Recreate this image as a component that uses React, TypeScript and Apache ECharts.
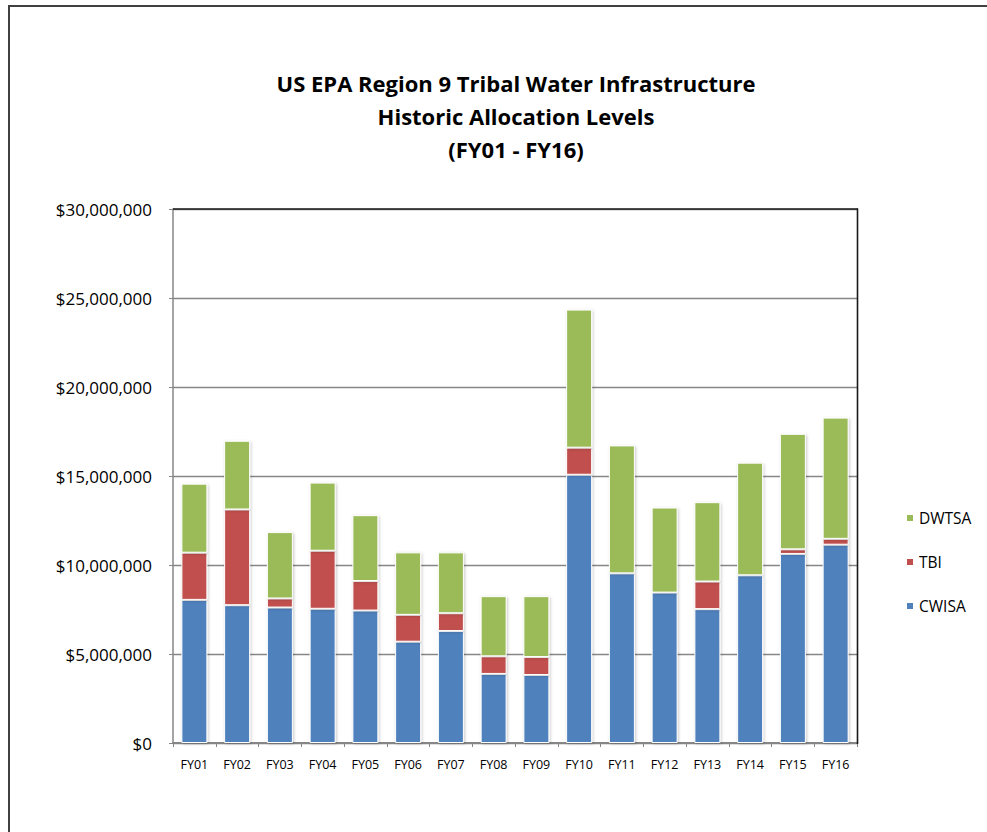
import React, { useEffect, useRef } from "react";
import * as echarts from "echarts";

const categories = ["FY01","FY02","FY03","FY04","FY05","FY06","FY07","FY08","FY09","FY10","FY11","FY12","FY13","FY14","FY15","FY16"];
const cwisa = [8040000,7740000,7610000,7540000,7440000,5690000,6290000,3880000,3820000,15070000,9530000,8450000,7520000,9420000,10620000,11140000];
const tbi = [2650000,5380000,510000,3260000,1660000,1510000,1000000,990000,1010000,1520000,0,0,1550000,0,260000,330000];
const dwtsa = [3880000,3860000,3730000,3830000,3700000,3510000,3420000,3380000,3420000,7760000,7190000,4780000,4460000,6330000,6490000,6810000];
const yTicks = { min: 0, max: 30000000, interval: 5000000 };
const titleText = "US EPA Region 9 Tribal Water Infrastructure\nHistoric Allocation Levels\n(FY01 - FY16)";

const FONT = "'Open Sans', 'Noto Sans', sans-serif";

function fmtMoney(v: number): string {
  return "$" + Math.round(v).toString().replace(/\B(?=(\d{3})+(?!\d))/g, ",");
}

export default function App() {
  const ref = useRef<HTMLDivElement>(null);
  useEffect(() => {
    if (!ref.current) return;
    const chart = echarts.init(ref.current, null, { renderer: "svg" });
    const barStyle = (color: string) => ({
      color,
      borderColor: "#ffffff",
      borderWidth: 1,
      shadowColor: "rgba(0,0,0,0.22)",
      shadowBlur: 3,
      shadowOffsetX: 1,
      shadowOffsetY: 1,
    });
    chart.setOption({
      animation: false,
      backgroundColor: "#ffffff",
      title: {
        text: titleText,
        left: 511,
        top: 61,
        textAlign: "center",
        textStyle: {
          fontFamily: FONT,
          fontWeight: "bold",
          fontSize: 22,
          lineHeight: 33,
          color: "#000000",
        },
      },
      legend: {
        orient: "vertical",
        left: 900,
        top: 505,
        itemWidth: 8,
        itemHeight: 8,
        itemGap: 28,
        icon: "rect",
        data: ["DWTSA", "TBI", "CWISA"],
        textStyle: { fontFamily: FONT, fontSize: 15.5, lineHeight: 16, color: "#000000", padding: [0, 0, 0, 0] },
      },
      grid: {
        left: 173,
        right: 130,
        top: 209,
        bottom: 89,
        show: false,
      },
      xAxis: {
        type: "category",
        data: categories,
        axisLine: { lineStyle: { color: "#868686", width: 2 } },
        axisTick: { show: true, length: 4, lineStyle: { color: "#868686" } },
        axisLabel: { fontFamily: FONT, fontSize: 12.5, color: "#000000", margin: 15 },
      },
      yAxis: {
        type: "value",
        min: yTicks.min,
        max: yTicks.max,
        interval: yTicks.interval,
        axisLine: { show: true, lineStyle: { color: "#868686", width: 1.5 } },
        axisTick: { show: true, length: 4, lineStyle: { color: "#868686" } },
        splitLine: { lineStyle: { color: "#868686", width: 1.3 } },
        axisLabel: { fontFamily: FONT, fontSize: 17, color: "#000000", margin: 21, formatter: (v: number) => fmtMoney(v) },
      },
      graphic: [
        { type: "line", z: 100, shape: { x1: 8, y1: 6, x2: 987, y2: 6 }, style: { stroke: "#404040", lineWidth: 2 } },
        { type: "line", z: 100, shape: { x1: 9, y1: 5, x2: 9, y2: 832 }, style: { stroke: "#404040", lineWidth: 2 } },
        { type: "line", z: 100, shape: { x1: 173, y1: 209, x2: 858, y2: 209 }, style: { stroke: "#1a1a1a", lineWidth: 1.6 } },
        { type: "line", z: 100, shape: { x1: 857.5, y1: 208.5, x2: 857.5, y2: 744 }, style: { stroke: "#1a1a1a", lineWidth: 1.6 } },
      ],
      series: [
        { name: "CWISA", type: "bar", stack: "total", data: cwisa, barWidth: 26, itemStyle: barStyle("#4F81BD") },
        { name: "TBI", type: "bar", stack: "total", data: tbi, barWidth: 26, itemStyle: barStyle("#C0504D") },
        { name: "DWTSA", type: "bar", stack: "total", data: dwtsa, barWidth: 26, itemStyle: barStyle("#9BBB59") },
      ],
    });
    return () => chart.dispose();
  }, []);
  return (
    <div
      ref={ref}
      style={{ position: "absolute", left: 0, top: 0, width: 987, height: 832 }}
    />
  );
}
